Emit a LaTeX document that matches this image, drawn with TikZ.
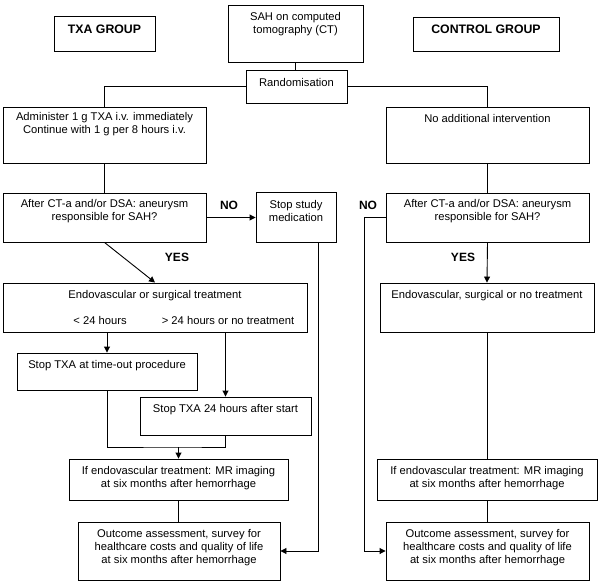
\documentclass[tikz,border=0pt]{standalone}
\usepackage{fontspec}
\setmainfont{Liberation Sans}
\usetikzlibrary{arrows.meta}
\begin{document}
\begin{tikzpicture}[x=1pt,y=-1pt,
  box/.style={draw=black, line width=0.9pt, inner sep=0pt},
  txt/.style={align=center, inner sep=0pt, font=\fontsize{11.2}{13}\selectfont},
  lbl/.style={inner sep=0pt, font=\bfseries\fontsize{12}{14}\selectfont},
  conn/.style={draw=black, line width=0.9pt},
  arr/.style={conn, -{Triangle[length=6pt,width=6pt]}}]
\useasboundingbox (0,0) rectangle (600,586);
% boxes
\node[box, minimum width=101pt, minimum height=35pt] (txa) at (104.5,33.5) {};
\node[box, minimum width=146pt, minimum height=34pt] (ctrl) at (486,34) {};
\node[box, minimum width=135pt, minimum height=57pt] (sah) at (295.5,33.5) {};
\node[box, minimum width=101pt, minimum height=33pt] (rand) at (296.5,86.5) {};
\node[box, minimum width=203pt, minimum height=56pt] (adm) at (104.5,135) {};
\node[box, minimum width=203pt, minimum height=56pt] (noadd) at (487.5,135) {};
\node[box, minimum width=203pt, minimum height=49pt] (q1) at (104.5,217.5) {};
\node[box, minimum width=80pt, minimum height=50pt] (stop) at (296,217) {};
\node[box, minimum width=203pt, minimum height=49pt] (q2) at (487.5,217.5) {};
\node[box, minimum width=304pt, minimum height=49pt] (endo) at (155,307.5) {};
\node[box, minimum width=214pt, minimum height=49pt] (endo2) at (487,307.5) {};
\node[box, minimum width=180pt, minimum height=37pt] (stopto) at (107,371.5) {};
\node[box, minimum width=171pt, minimum height=38pt] (stop24) at (225.5,416) {};
\node[box, minimum width=219pt, minimum height=41pt] (mr1) at (178.5,479.5) {};
\node[box, minimum width=220pt, minimum height=41pt] (mr2) at (487,479.5) {};
\node[box, minimum width=202pt, minimum height=58pt] (out1) at (179,551) {};
\node[box, minimum width=203pt, minimum height=58pt] (out2) at (487.5,551) {};
% texts
\node[lbl, font=\bfseries\fontsize{12.3}{14}\selectfont] (txaT) at (104.5,29.5) {TXA GROUP};
\node[lbl, font=\bfseries\fontsize{12.3}{14}\selectfont] (ctrlT) at (486,29.5) {CONTROL GROUP};
\node[txt] (sahT) at (295.5,24) {SAH on computed\\tomography (CT)};
\node[txt] (randT) at (296.5,82) {Randomisation};
\node[txt] (admT) at (104.5,124.5) {Administer 1 g TXA i.v. immediately\\Continue with 1 g per 8 hours i.v.};
\node[txt] (noaddT) at (487.5,118.5) {No additional intervention};
\node[txt] (q1T) at (104.5,211.5) {After CT-a and/or DSA: aneurysm\\responsible for SAH?};
\node[txt] (stopT) at (296,210.5) {Stop study\\medication};
\node[txt] (q2T) at (487.5,211.5) {After CT-a and/or DSA: aneurysm\\responsible for SAH?};
\node[txt] (endoT) at (155,295.5) {Endovascular or surgical treatment};
\node[txt] (ltT) at (100,320.5) {< 24 hours};
\node[txt] (gtT) at (228,320.5) {> 24 hours or no treatment};
\node[txt] (endo2T) at (487,295.5) {Endovascular, surgical or no treatment};
\node[txt] (stoptoT) at (107,365.5) {Stop TXA at time-out procedure};
\node[txt] (stop24T) at (225.5,409.5) {Stop TXA 24 hours after start};
\node[txt] (mr1T) at (178.5,478) {If endovascular treatment: MR imaging\\at six months after hemorrhage};
\node[txt] (mr2T) at (487,478) {If endovascular treatment: MR imaging\\at six months after hemorrhage};
\node[txt] (out1T) at (179,547.5) {Outcome assessment, survey for\\healthcare costs and quality of life\\at six months after hemorrhage};
\node[txt] (out2T) at (487.5,547.5) {Outcome assessment, survey for\\healthcare costs and quality of life\\at six months after hemorrhage};
\node[lbl] (no1) at (229,205.5) {NO};
\node[lbl] (no2) at (368,205.5) {NO};
\node[lbl] (yes1) at (177,257.5) {YES};
\node[lbl] (yes2) at (463,257.5) {YES};
% connectors
\draw[conn] (sah.south) -- (rand.north -| sah.south);
\draw[conn] (rand.west) -| (adm.north);
\draw[conn] (rand.east) -| (noadd.north);
\draw[conn] (adm.south) -- (q1.north);
\draw[conn] (noadd.south) -- (q2.north);
\draw[arr] (q1.east) -- (stop.west |- q1.east);
\draw[arr] (q1.south) -- (endo.north);
\draw[arr] ([xshift=22pt]stop.south) |- (out1.east);
\draw[arr] (q2.west) -- ++(-21,0) |- (out2.west);
\draw[arr] (q2.south) -- (endo2.north);
\draw[arr] (endo.south -| stopto.north) -- (stopto.north);
\draw[arr] (endo.south -| stop24.north) -- (stop24.north);
\coordinate (j) at (178.5,447);
\draw[conn] (stopto.south) |- (j) -| (stop24.south);
\draw[arr] (j) -- (mr1.north);
\draw[conn] (mr1.south) -- (out1.north -| mr1.south);
\draw[conn] (endo2.south) -- (mr2.north);
\draw[conn] (mr2.south) -- (out2.north -| mr2.south);
\end{tikzpicture}
\end{document}
